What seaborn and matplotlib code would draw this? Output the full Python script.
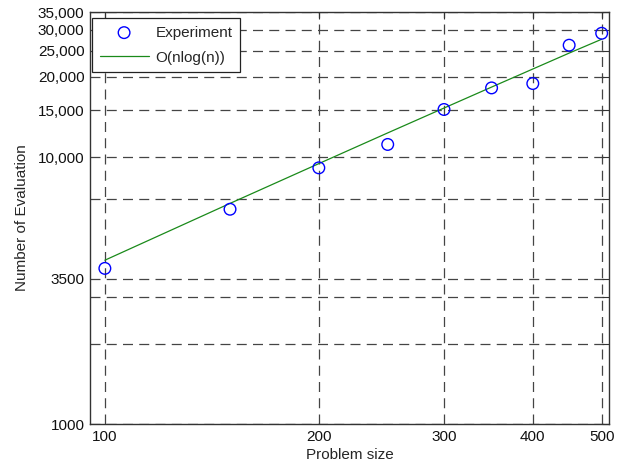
import matplotlib
matplotlib.use("Agg")
import matplotlib.pyplot as plt
import seaborn as sns
import pandas as pd
from matplotlib.ticker import FixedLocator, FixedFormatter, NullLocator

sizes = [100, 150, 200, 250, 300, 350, 400, 450, 500]
evaluations = [3830, 6380, 9120, 11160, 15090, 18180, 18880, 26280, 29130]
fit_values = [4110, 6710, 9460, 12330, 15280, 18310, 21400, 24550, 27670]
xticks = [100, 200, 300, 400, 500]
xtick_labels = ["100", "200", "300", "400", "500"]
yticks = [1000, 2000, 3000, 3500, 7000, 10000, 15000, 20000, 25000, 30000, 35000]
ytick_labels = ["1000", "", "", "3500", "", "10,000", "15,000", "20,000", "25,000", "30,000", "35,000"]

sns.set_style("white")
plt.rcParams["font.family"] = ["Liberation Sans", "DejaVu Sans"]
plt.rcParams["font.size"] = 11

df_exp = pd.DataFrame({"size": sizes, "evals": evaluations})
df_fit = pd.DataFrame({"size": sizes, "evals": fit_values})

fig = plt.figure(figsize=(6.34, 4.71), dpi=100)
ax = fig.add_axes([90/634, 1-424/471, (609-90)/634, (424-12)/471])

ax.set_xscale("log")
ax.set_yscale("log")

sns.scatterplot(data=df_exp, x="size", y="evals", ax=ax, marker="o", s=70,
                facecolors="none", edgecolor="#0000ff", linewidth=1.0,
                label="Experiment", zorder=3)
sns.lineplot(data=df_fit, x="size", y="evals", ax=ax, color="#1a8a1a",
             linewidth=0.9, label="O(nlog(n))", zorder=2)

ax.set_xlim(95.3, 512)
ax.set_ylim(1000, 35000)

ax.xaxis.set_major_locator(FixedLocator(xticks))
ax.xaxis.set_major_formatter(FixedFormatter(xtick_labels))
ax.xaxis.set_minor_locator(NullLocator())
ax.yaxis.set_major_locator(FixedLocator(yticks))
ax.yaxis.set_major_formatter(FixedFormatter(ytick_labels))
ax.yaxis.set_minor_locator(NullLocator())

ax.tick_params(axis="both", which="major", direction="in", length=5, width=0.8,
               color="#333333", labelsize=11, labelcolor="#111111",
               top=True, right=True, pad=4)

ax.grid(True, which="major", linestyle=(0, (8, 5)), color="#444444", linewidth=0.9)
for s in ax.spines.values():
    s.set_color("#333333")
    s.set_linewidth(1.0)

ax.set_xlabel("Problem size", fontsize=11, labelpad=3)
ax.set_ylabel("Number of Evaluation", fontsize=11, labelpad=6)

leg = ax.legend(loc="upper left", bbox_to_anchor=(2/519, 1-6/412), borderaxespad=0,
                frameon=True, fancybox=False, edgecolor="#222222", framealpha=1.0,
                handlelength=3.2, borderpad=0.5, labelspacing=0.72,
                handletextpad=0.45, fontsize=11)
leg.get_frame().set_linewidth(0.9)

fig.savefig("out.png", dpi=100)
